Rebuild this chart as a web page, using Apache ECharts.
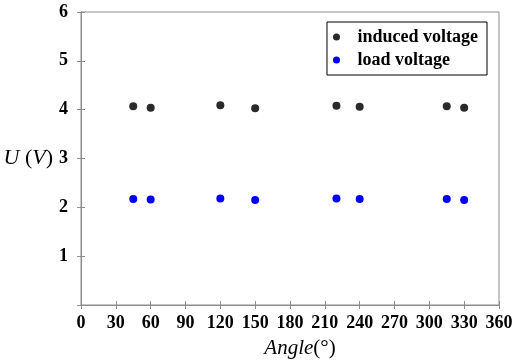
<!DOCTYPE html>
<html>
<head>
<meta charset="utf-8">
<script src="https://cdn.jsdelivr.net/npm/echarts@6/dist/echarts.min.js"></script>
<style>html,body{margin:0;padding:0;background:#fff}#chart{width:514px;height:362px}</style>
</head>
<body>
<div id="chart"></div>
<script>
// Measured voltages versus rotor angle
const angles = [45, 60, 120, 150, 220, 240, 315, 330];
const inducedVoltage = [4.07, 4.04, 4.09, 4.03, 4.08, 4.06, 4.07, 4.04];
const loadVoltage = [2.17, 2.16, 2.18, 2.15, 2.18, 2.17, 2.17, 2.15];
const xTicks = [0, 30, 60, 90, 120, 150, 180, 210, 240, 270, 300, 330, 360];
const yTicks = [1, 2, 3, 4, 5, 6];

const pairs = (xs, ys) => xs.map((x, i) => [x, ys[i]]);
const serif = '"Liberation Serif", "Times New Roman", serif';
const axisGray = '#8c8c8c';

const chart = echarts.init(document.getElementById('chart'));
chart.setOption({
  animation: false,
  backgroundColor: '#fff',
  grid: { left: 81, right: 15, top: 12, bottom: 57, outerBoundsMode: 'none', containLabel: false,
    show: true, borderColor: axisGray, borderWidth: 1 },
  legend: {
    right: 27, top: 22,
    orient: 'vertical',
    borderColor: '#000', borderWidth: 1,
    padding: [6, 9, 6, 6],
    itemGap: 5,
    itemWidth: 20, itemHeight: 7,
    icon: 'circle',
    textStyle: { fontFamily: serif, fontWeight: 'bold', fontSize: 18, color: '#000', padding: [0, 0, 0, 6] },
    data: ['induced voltage', 'load voltage']
  },
  xAxis: [{
    type: 'value', min: 0, max: 360, interval: 30,
    name: '{i|Angle}{n|(°)}', nameLocation: 'middle', nameGap: 33,
    nameTextStyle: { padding: [0, 0, 0, 20], rich: {
      i: { fontFamily: serif, fontStyle: 'italic', fontSize: 21, color: '#000' },
      n: { fontFamily: serif, fontSize: 21, color: '#000' }
    } },
    axisLine: { lineStyle: { color: axisGray } },
    axisTick: { inside: true, length: 4, lineStyle: { color: axisGray } },
    axisLabel: { margin: 9, fontFamily: serif, fontWeight: 'bold', fontSize: 18, color: '#000',
      formatter: v => xTicks.includes(v) ? String(v) : '' },
    splitLine: { show: false }
  }, {
    type: 'value', position: 'top', min: 0, max: 360, interval: 30,
    axisLine: { lineStyle: { color: axisGray } },
    axisTick: { inside: true, length: 4, lineStyle: { color: axisGray } },
    axisLabel: { show: false }, splitLine: { show: false }
  }],
  yAxis: [{
    type: 'value', min: 0, max: 6, interval: 1,
    name: '{i|U}{n| (}{i|V}{n|)}', nameLocation: 'middle', nameGap: 21, nameRotate: 0,
    nameTextStyle: { rich: {
      i: { fontFamily: serif, fontStyle: 'italic', fontSize: 22, color: '#000' },
      n: { fontFamily: serif, fontSize: 22, color: '#000' }
    } },
    axisLine: { show: true, lineStyle: { color: axisGray } },
    axisTick: { show: true, inside: true, length: 4, lineStyle: { color: axisGray } },
    axisLabel: { margin: 13, fontFamily: serif, fontWeight: 'bold', fontSize: 18, color: '#000',
      formatter: v => yTicks.includes(v) ? String(v) : '' },
    splitLine: { show: false }
  }, {
    type: 'value', position: 'right', min: 0, max: 6, interval: 1,
    axisLine: { show: true, lineStyle: { color: axisGray } },
    axisTick: { show: true, inside: true, length: 4, lineStyle: { color: axisGray } },
    axisLabel: { show: false }, splitLine: { show: false }
  }],
  series: [{
    name: 'induced voltage', type: 'scatter', symbolSize: 8,
    itemStyle: { color: '#2a2a2a', opacity: 1 },
    data: pairs(angles, inducedVoltage)
  }, {
    name: 'load voltage', type: 'scatter', symbolSize: 8,
    itemStyle: { color: '#0000ff', opacity: 1 },
    data: pairs(angles, loadVoltage)
  }]
});
</script>
</body>
</html>
